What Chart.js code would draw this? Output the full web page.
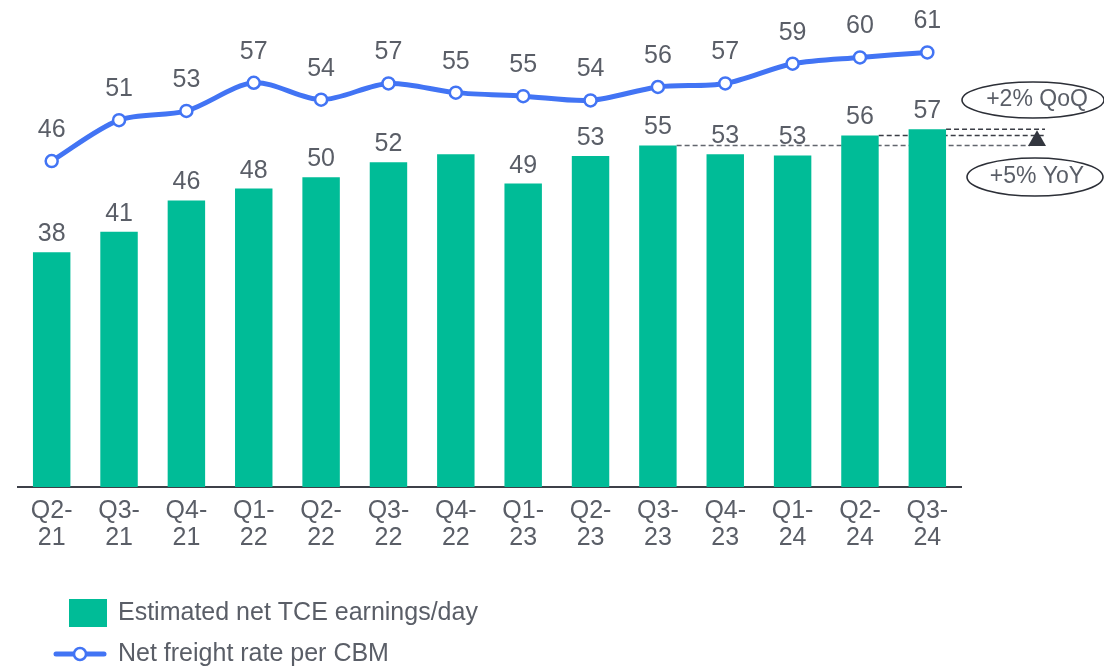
<!DOCTYPE html>
<html>
<head>
<meta charset="utf-8">
<script src="https://cdn.jsdelivr.net/npm/chart.js@4/dist/chart.umd.min.js"></script>
<style>
  html, body { margin: 0; padding: 0; background: #ffffff; }
  #wrap { width: 1104px; height: 668px; position: relative; }
</style>
</head>
<body>
<div id="wrap"><canvas id="c"></canvas></div>
<script>
// ---- data ----
const categories = [
  ['Q2-', '21'], ['Q3-', '21'], ['Q4-', '21'], ['Q1-', '22'], ['Q2-', '22'], ['Q3-', '22'], ['Q4-', '22'],
  ['Q1-', '23'], ['Q2-', '23'], ['Q3-', '23'], ['Q4-', '23'], ['Q1-', '24'], ['Q2-', '24'], ['Q3-', '24']
];
const tceEarnings = [37.6, 40.9, 45.9, 47.8, 49.6, 52.0, 53.3, 48.6, 53.0, 54.7, 53.3, 53.1, 56.3, 57.3];
const freightRate = [45.6, 51.4, 52.7, 56.7, 54.3, 56.6, 55.3, 54.8, 54.2, 56.1, 56.6, 59.4, 60.3, 61.0];
const hiddenBarLabels = [6];          // Q4-22 bar label is not shown in the original
const seriesNames = ['Estimated net TCE earnings/day', 'Net freight rate per CBM'];
const qoqText = '+2% QoQ';
const yoyText = '+5% YoY';

// ---- styles ----
const FONT = '"Liberation Sans", Arial, sans-serif';
const TEXT = '#5a5e67';
const TEAL = '#00bc97';
const BLUE = '#4274f4';

const labelsPlugin = {
  id: 'valueLabels',
  afterDatasetsDraw(chart) {
    const ctx = chart.ctx;
    ctx.save();
    ctx.font = '25px ' + FONT;
    ctx.fillStyle = TEXT;
    ctx.textAlign = 'center';
    ctx.textBaseline = 'alphabetic';
    const barMeta = chart.getDatasetMeta(1);
    barMeta.data.forEach((el, i) => {
      if (hiddenBarLabels.includes(i)) return;
      ctx.fillText(String(Math.round(tceEarnings[i])), el.x, el.y - 11);
    });
    const lineMeta = chart.getDatasetMeta(0);
    lineMeta.data.forEach((el, i) => {
      ctx.fillText(String(Math.round(freightRate[i])), el.x, el.y - 24);
    });
    ctx.restore();
  }
};

const refLinesPlugin = {
  id: 'refLines',
  beforeDatasetsDraw(chart) {
    const ctx = chart.ctx;
    const ys = chart.scales.y;
    const bars = chart.getDatasetMeta(1).data;
    const n = tceEarnings.length;
    ctx.save();
    ctx.lineWidth = 1.5;
    ctx.setLineDash([5, 3]);
    // YoY reference (same quarter last year)
    const iY = n - 5;
    let y = ys.getPixelForValue(tceEarnings[iY]);
    ctx.strokeStyle = '#62666e';
    ctx.beginPath();
    ctx.moveTo(bars[iY].x + bars[iY].width / 2, y);
    ctx.lineTo(1030, y);
    ctx.stroke();
    // QoQ reference (previous quarter)
    const iQ = n - 2;
    y = ys.getPixelForValue(tceEarnings[iQ]);
    ctx.strokeStyle = '#3a3d45';
    ctx.beginPath();
    ctx.moveTo(bars[iQ].x + bars[iQ].width / 2, y);
    ctx.lineTo(1045, y);
    ctx.stroke();
    // current quarter
    const iC = n - 1;
    y = ys.getPixelForValue(tceEarnings[iC]);
    ctx.beginPath();
    ctx.moveTo(bars[iC].x + bars[iC].width / 2, y);
    ctx.lineTo(1045, y);
    ctx.stroke();
    ctx.restore();
  },
  afterDraw(chart) {
    const ctx = chart.ctx;
    const ys = chart.scales.y;
    const n = tceEarnings.length;
    const yTop = ys.getPixelForValue(tceEarnings[n - 1]);
    const yBot = ys.getPixelForValue(tceEarnings[n - 5]);
    ctx.save();
    // arrow head
    ctx.fillStyle = '#33363f';
    ctx.beginPath();
    ctx.moveTo(1037, yTop + 1);
    ctx.lineTo(1046, yBot + 0.5);
    ctx.lineTo(1028, yBot + 0.5);
    ctx.closePath();
    ctx.fill();
    // ellipses with text
    ctx.strokeStyle = '#2c2f37';
    ctx.lineWidth = 1.6;
    ctx.beginPath();
    ctx.ellipse(1033, 100, 71, 18, 0, 0, Math.PI * 2);
    ctx.stroke();
    ctx.beginPath();
    ctx.ellipse(1035, 177, 68, 19, 0, 0, Math.PI * 2);
    ctx.stroke();
    ctx.font = '23px ' + FONT;
    ctx.fillStyle = TEXT;
    ctx.textAlign = 'center';
    ctx.textBaseline = 'middle';
    ctx.fillText(qoqText, 1037, 100);
    ctx.fillText(yoyText, 1037, 177);

    // legend
    const ds = chart.data.datasets;
    ctx.font = '25px ' + FONT;
    ctx.textAlign = 'left';
    ctx.fillStyle = ds[1].backgroundColor;
    ctx.fillRect(69, 599, 38, 28);
    ctx.fillStyle = TEXT;
    ctx.fillText(ds[1].label, 118, 613);
    ctx.strokeStyle = ds[0].borderColor;
    ctx.lineWidth = 5;
    ctx.lineCap = 'round';
    ctx.beginPath();
    ctx.moveTo(56, 654);
    ctx.lineTo(104, 654);
    ctx.stroke();
    ctx.beginPath();
    ctx.arc(80, 654, 6, 0, Math.PI * 2);
    ctx.fillStyle = '#ffffff';
    ctx.fill();
    ctx.lineWidth = 2.5;
    ctx.stroke();
    ctx.fillStyle = TEXT;
    ctx.fillText(ds[0].label, 118, 654);
    ctx.restore();
  }
};

new Chart(document.getElementById('c'), {
  data: {
    labels: categories,
    datasets: [
      {
        type: 'line',
        label: seriesNames[1],
        data: freightRate,
        yAxisID: 'y2',
        borderColor: BLUE,
        borderWidth: 5,
        tension: 0.3,
        pointRadius: 6,
        pointBorderWidth: 2.5,
        pointBackgroundColor: '#ffffff',
        pointBorderColor: BLUE,
        clip: false,
        order: 0
      },
      {
        type: 'bar',
        label: seriesNames[0],
        data: tceEarnings,
        yAxisID: 'y',
        backgroundColor: TEAL,
        categoryPercentage: 1,
        barPercentage: 0.556,
        order: 1
      }
    ]
  },
  options: {
    responsive: true,
    maintainAspectRatio: false,
    devicePixelRatio: 1,
    animation: false,
    layout: { autoPadding: false, padding: { left: 18, right: 143, top: 0, bottom: 0 } },
    plugins: {
      legend: { display: false },
      tooltip: { enabled: false }
    },
    scales: {
      x: {
        type: 'category',
        offset: true,
        grid: { display: false, drawTicks: false },
        border: { display: true, color: '#3d4048', width: 2 },
        ticks: {
          font: { family: FONT, size: 25, lineHeight: 1.08 },
          color: TEXT,
          padding: 11,
          maxRotation: 0,
          autoSkip: false
        },
        afterFit(scale) { scale.height = 181; }
      },
      y: {
        display: false,
        min: 0,
        max: 78
      },
      y2: {
        display: false,
        min: -0.64,
        max: 68.44
      }
    }
  },
  plugins: [labelsPlugin, refLinesPlugin]
});
</script>
</body>
</html>
